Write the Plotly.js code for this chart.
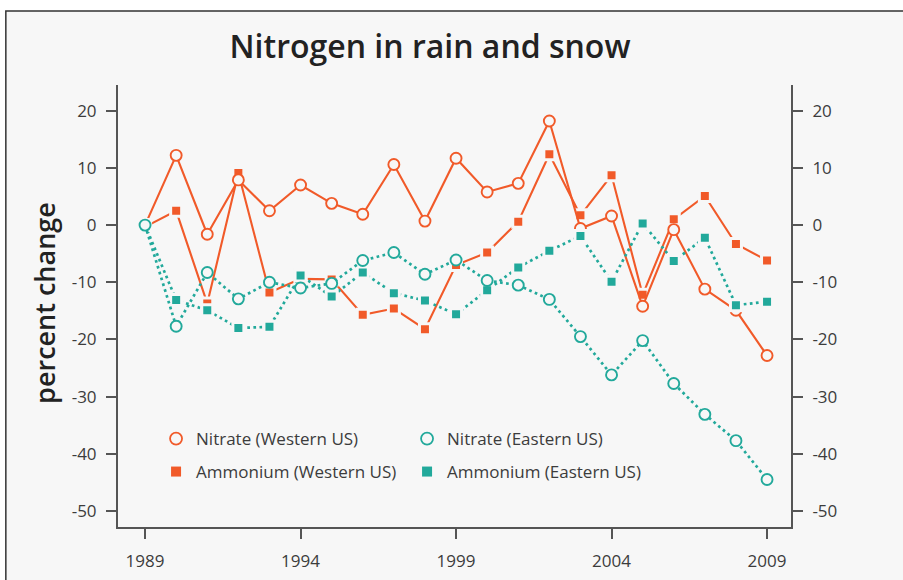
<!DOCTYPE html>
<html>
<head>
<meta charset="utf-8">
<script src="https://cdn.plot.ly/plotly-3.0.1.min.js"></script>
<style>
html, body { margin: 0; padding: 0; background: #ffffff; }
#chart { width: 903px; height: 580px; }
</style>
</head>
<body>
<div id="chart"></div>
<script>
// ---- data ----
const years = [1989, 1990, 1991, 1992, 1993, 1994, 1995, 1996, 1997, 1998, 1999,
               2000, 2001, 2002, 2003, 2004, 2005, 2006, 2007, 2008, 2009];
const nitrateWest  = [0, 12.2, -1.6, 7.9, 2.5, 7.0, 3.8, 1.9, 10.6, 0.7, 11.7,
                      5.8, 7.3, 18.2, -0.6, 1.6, -14.2, -0.8, -11.2, -14.9, -22.8];
const ammoniumWest = [-0.3, 2.5, -13.7, 9.1, -11.8, -9.4, -9.5, -15.7, -14.6, -18.2, -7.0,
                      -4.8, 0.6, 12.4, 1.7, 8.7, -12.2, 1.0, 5.1, -3.3, -6.2];
const nitrateEast  = [0, -17.7, -8.3, -12.9, -10.0, -11.0, -10.2, -6.2, -4.8, -8.6, -6.1,
                      -9.7, -10.5, -13.0, -19.5, -26.2, -20.2, -27.7, -33.1, -37.7, -44.5];
const ammoniumEast = [0, -13.1, -14.9, -18.0, -17.8, -8.8, -12.5, -8.3, -11.9, -13.2, -15.6,
                      -11.4, -7.4, -4.5, -1.9, -9.9, 0.3, -6.3, -2.2, -14.0, -13.4];
const seriesNames = ['Nitrate (Western US)', 'Nitrate (Eastern US)',
                     'Ammonium (Western US)', 'Ammonium (Eastern US)'];
const xTickYears = [1989, 1994, 1999, 2004, 2009];
const yTickValues = [20, 10, 0, -10, -20, -30, -40, -50];
const yTickLabels = ['20', '10', '0', '-10', '-20', '-30', '-40', '-50'];

// ---- styles ----
const ORANGE = '#f15a29';
const TEAL = '#22a99b';
const BG = '#f7f7f7';
const AXIS = '#555555';
const TEXT = '#3c3c3c';
const FONT = 'Open Sans';

const circleMarker = c => ({ symbol: 'circle', size: 11, color: BG, line: { color: c, width: 1.9 } });
const squareMarker = c => ({ symbol: 'square', size: 11, color: c, line: { color: BG, width: 3 } });

const orangeLine = { color: ORANGE, width: 2.1 };
const tealLine = { color: TEAL, width: 2.7, dash: '2.7px,3.4px' };

const traces = [
  { x: years, y: ammoniumWest, mode: 'lines+markers', line: orangeLine,
    marker: squareMarker(ORANGE), showlegend: false, hoverinfo: 'skip' },
  { x: years, y: nitrateWest, mode: 'lines+markers', line: orangeLine,
    marker: circleMarker(ORANGE), showlegend: false, hoverinfo: 'skip' },
  { x: years, y: ammoniumEast, mode: 'lines+markers', line: tealLine,
    marker: squareMarker(TEAL), showlegend: false, hoverinfo: 'skip' },
  { x: years, y: nitrateEast, mode: 'lines+markers', line: tealLine,
    marker: circleMarker(TEAL), showlegend: false, hoverinfo: 'skip' },
  // legend-only entries (marker symbol only, like the reference)
  { x: [null], y: [null], mode: 'markers', name: seriesNames[0], legend: 'legend',
    marker: { symbol: 'circle', size: 12, color: BG, line: { color: ORANGE, width: 1.8 } } },
  { x: [null], y: [null], mode: 'markers', name: seriesNames[1], legend: 'legend',
    marker: { symbol: 'circle', size: 12, color: BG, line: { color: TEAL, width: 1.8 } } },
  { x: [null], y: [null], mode: 'markers', name: seriesNames[2], legend: 'legend2',
    marker: { symbol: 'square', size: 10, color: ORANGE } },
  { x: [null], y: [null], mode: 'markers', name: seriesNames[3], legend: 'legend2', yaxis: 'y2',
    marker: { symbol: 'square', size: 10, color: TEAL } }
];

const yRange = [-52.8, 24.5];
const axisCommon = {
  showline: true, linecolor: AXIS, linewidth: 2,
  ticks: 'outside', ticklen: 10, tickwidth: 2, tickcolor: AXIS,
  showgrid: false, zeroline: false, fixedrange: true,
  tickfont: { family: FONT, size: 17, color: TEXT }
};

const legendCommon = {
  orientation: 'h', xref: 'paper', yref: 'paper',
  xanchor: 'left', yanchor: 'middle',
  entrywidth: 206, entrywidthmode: 'pixels',
  bgcolor: 'rgba(0,0,0,0)', borderwidth: 0,
  font: { family: FONT, size: 17, color: TEXT },
  itemclick: false, itemdoubleclick: false
};

const layout = {
  width: 903, height: 580,
  margin: { l: 118, r: 112, t: 85, b: 53 },
  paper_bgcolor: '#ffffff',
  plot_bgcolor: 'rgba(0,0,0,0)',
  font: { family: FONT, color: TEXT },
  title: {
    text: 'Nitrogen in rain and snow',
    font: { family: FONT, size: 32, weight: 600, color: '#222222' },
    x: 430 / 903, xanchor: 'center',
    y: 1 - 47 / 580, yanchor: 'middle'
  },
  xaxis: Object.assign({}, axisCommon, {
    range: [1988.13, 2009.77], tickvals: xTickYears, ticktext: xTickYears.map(String),
    ticklabelstandoff: 8
  }),
  yaxis: Object.assign({}, axisCommon, {
    range: yRange, tickvals: yTickValues, ticktext: yTickLabels, ticklabelstandoff: 6
  }),
  yaxis2: Object.assign({}, axisCommon, {
    range: yRange, tickvals: yTickValues, ticktext: yTickLabels,
    overlaying: 'y', side: 'right', ticklabelstandoff: 6
  }),
  legend: Object.assign({}, legendCommon, { x: (156 - 118) / 672, y: (527 - 439) / 442 }),
  legend2: Object.assign({}, legendCommon, { x: (156 - 118) / 672, y: (527 - 472) / 442 }),
  annotations: [{
    text: 'percent change', xref: 'paper', yref: 'paper',
    x: (44 - 118) / 672, y: (527 - 303) / 442,
    xanchor: 'center', yanchor: 'middle', textangle: -90, showarrow: false,
    font: { family: FONT, size: 27, weight: 600, color: '#222222' }
  }],
  shapes: [{
    type: 'rect', xref: 'paper', yref: 'paper', layer: 'below',
    x0: (6 - 118) / 672, x1: (920 - 118) / 672,
    y0: (527 - 600) / 442, y1: (527 - 11) / 442,
    fillcolor: BG, line: { color: '#333333', width: 1.5 }
  }],
  showlegend: true,
  hovermode: false
};

Plotly.newPlot('chart', traces, layout, { displayModeBar: false, staticPlot: true });
</script>
</body>
</html>
